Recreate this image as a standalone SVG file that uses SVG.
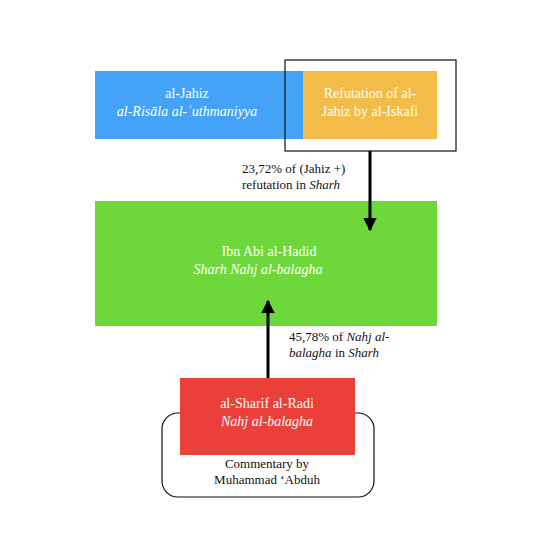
<svg xmlns="http://www.w3.org/2000/svg" width="542" height="553" viewBox="0 0 542 553">
<defs>
<marker id="ah" viewBox="0 0 10 10" refX="9" refY="5" markerWidth="4.5" markerHeight="4.5" markerUnits="strokeWidth" orient="auto">
<path d="M0,0 L10,5 L0,10 z" fill="#000"/>
</marker>
<style>
text{font-family:"Liberation Serif","DejaVu Serif",serif;font-size:14px}
.w{fill:#fff;text-anchor:middle}
.k{fill:#111;font-size:13px}
.i{font-style:italic}
.c{text-anchor:middle}
</style>
</defs>
<rect width="542" height="553" fill="#fff"/>
<g id="commentary">
<rect x="162" y="413" width="212" height="84" rx="16" fill="#fff" stroke="#111" stroke-width="1.2"/>
<text class="k c" x="267" y="468">Commentary by</text>
<text class="k c" x="267" y="484">Muhammad ʻAbduh</text>
</g>
<g id="jahiz">
<rect x="95" y="71" width="208" height="68" fill="#44a3f6"/>
<text class="w" x="187" y="98">al-Jahiz</text>
<text class="w i" x="187" y="116">al-Risāla al-ʿuthmaniyya</text>
</g>
<g id="refutation">
<rect x="303" y="71" width="134" height="68" fill="#f3bc48"/>
<text class="w" x="370" y="98">Refutation of al-</text>
<text class="w" x="370" y="116">Jahiz by al-Iskafi</text>
</g>
<g id="group-box">
<rect x="285" y="60" width="171" height="91" fill="none" stroke="#111" stroke-width="1.2"/>
</g>
<g id="ibn-abi-al-hadid">
<rect x="95" y="201" width="342" height="125" fill="#6ed83a"/>
<text class="w" x="269" y="256">Ibn Abi al-Hadid</text>
<text class="w i" x="258" y="274">Sharh Nahj al-balagha</text>
</g>
<g id="sharif-radi">
<rect x="180" y="378" width="175" height="77" fill="#ea4039"/>
<text class="w" x="267" y="408">al-Sharif al-Radi</text>
<text class="w i" x="267" y="426">Nahj al-balagha</text>
</g>
<g id="connectors" stroke="#000" stroke-width="3" fill="none">
<line x1="370" y1="151" x2="370" y2="230" marker-end="url(#ah)"/>
<line x1="268" y1="378" x2="268" y2="301" marker-end="url(#ah)"/>
</g>
<g id="labels">
<text class="k" x="242" y="173">23,72% of (Jahiz +)</text>
<text class="k" x="242" y="189">refutation in <tspan class="i">Sharh</tspan></text>
<text class="k" x="289" y="341">45,78% of <tspan class="i">Nahj al-</tspan></text>
<text class="k" x="289" y="357"><tspan class="i">balagha</tspan> in <tspan class="i">Sharh</tspan></text>
</g>
</svg>
